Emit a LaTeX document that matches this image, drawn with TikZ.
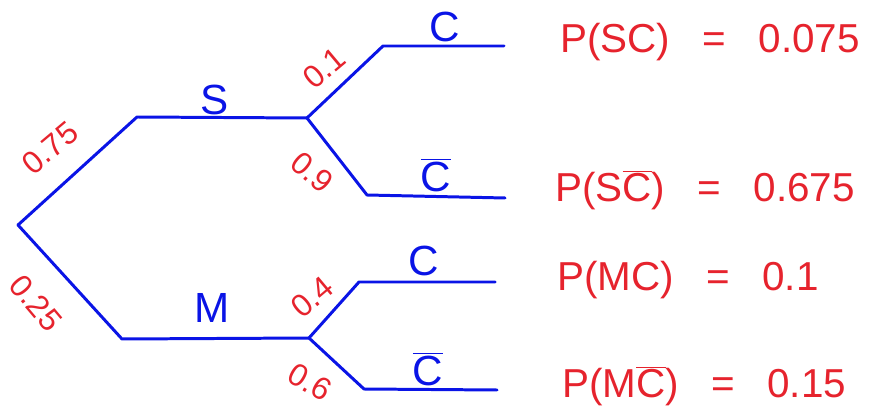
\documentclass[tikz,border=0pt]{standalone}
\usepackage{fontspec}
\setmainfont{Liberation Sans}
\begin{document}
\begin{tikzpicture}[x=0.2mm, y=-0.2mm]
    \definecolor{treeColour}{HTML}{0A14E6}
    \definecolor{probColour}{HTML}{E6232D}

    \tikzset{
        branch/.style={treeColour, line width=1.7pt, line cap=round, line join=round},
        outcome/.style={treeColour, inner sep=0pt, font=\fontsize{24}{26}\selectfont},
        prob/.style={probColour, inner sep=0pt, font=\fontsize{18}{20}\selectfont},
        result/.style={probColour, anchor=west, inner sep=0pt, font=\fontsize{23}{25}\selectfont}
    }

    \useasboundingbox (0,0) rectangle (889,408);

    % Root and first split
    \coordinate (root) at (18,225);
    \coordinate (Sa) at (137,117);
    \coordinate (Sb) at (307,118);
    \coordinate (Ma) at (122,339);
    \coordinate (Mb) at (309,338);

    % Second split after S
    \coordinate (SCa) at (383,46);
    \coordinate (SCb) at (504,46);
    \coordinate (SNa) at (367,195);
    \coordinate (SNb) at (505,198);

    % Second split after M
    \coordinate (MCa) at (359,282);
    \coordinate (MCb) at (495,282);
    \coordinate (MNa) at (364,389);
    \coordinate (MNb) at (497,390);

    % Draw branches
    \draw[branch] (root) -- (Sa) -- (Sb);
    \draw[branch] (root) -- (Ma) -- (Mb);
    \draw[branch] (Sb) -- (SCa) -- (SCb);
    \draw[branch] (Sb) -- (SNa) -- (SNb);
    \draw[branch] (Mb) -- (MCa) -- (MCb);
    \draw[branch] (Mb) -- (MNa) -- (MNb);

    % Outcome labels
    \node[outcome] (lblS) at (215,100) {S};
    \node[outcome] (lblM) at (212,308) {M};
    \node[outcome] (lblSC) at (445,27) {C};
    \node[outcome] (lblSN) at (436,175) {$\overline{\hbox{C}}$};
    \node[outcome] (lblMC) at (424,261) {C};
    \node[outcome] (lblMN) at (428,369) {$\overline{\hbox{C}}$};

    % Branch probabilities
    \node[prob, rotate=40] (pS) at (50,148) {0.75};
    \node[prob, rotate=-50] (pM) at (36,303) {0.25};
    \node[prob, rotate=40] (pSC) at (324,68) {0.1};
    \node[prob, rotate=-40] (pSN) at (312,172) {0.9};
    \node[prob, rotate=40] (pMC) at (312,297) {0.4};
    \node[prob, rotate=-30] (pMN) at (310,382) {0.6};

    % Joint probabilities
    \node[result] (rSC) at (560,42) {P(SC)\hspace{0.8em}=\hspace{0.8em}0.075};
    \node[result] (rSN) at (555,190) {P(S$\overline{\hbox{C}}$)\hspace{0.8em}=\hspace{0.8em}0.675};
    \node[result] (rMC) at (557,280) {P(MC)\hspace{0.8em}=\hspace{0.8em}0.1};
    \node[result] (rMN) at (562,386) {P(M$\overline{\hbox{C}}$)\hspace{0.8em}=\hspace{0.8em}0.15};

\end{tikzpicture}
\end{document}
